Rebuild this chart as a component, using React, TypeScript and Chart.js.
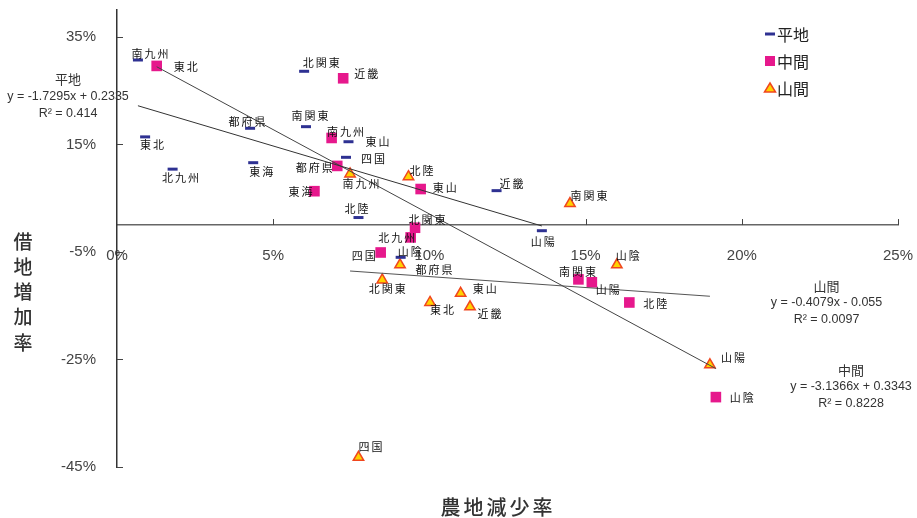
import React, { useEffect, useRef } from 'react';
import { Chart, registerables } from 'chart.js';

Chart.register(...registerables);

// ---- data (percent units) ----
const flatNames = ['南九州', '東北', '北九州', '都府県', '東海', '北関東', '南関東', '東山', '四国', '北陸', '近畿', '山陽', '山陰'];
const flatX = [0.67, 0.9, 1.78, 4.26, 4.36, 5.99, 6.05, 7.41, 7.33, 7.73, 12.15, 13.6, 9.08];
const flatY = [30.7, 16.4, 10.4, 18.0, 11.6, 28.6, 18.3, 15.5, 12.6, 1.4, 6.4, -1.05, -6.0];

const midNames = ['東北', '近畿', '南九州', '都府県', '東海', '東山', '北関東', '北九州', '四国', '南関東', '山陽', '北陸', '山陰'];
const midX = [1.27, 7.24, 6.87, 7.05, 6.32, 9.72, 9.54, 9.4, 8.44, 14.77, 15.2, 16.4, 19.17];
const midY = [29.6, 27.3, 16.2, 11.0, 6.3, 6.7, -0.5, -2.3, -5.1, -10.1, -10.65, -14.4, -32.0];

const mtnNames = ['南九州', '北陸', '南関東', '都府県', '北関東', '東山', '東北', '近畿', '山陰', '山陽', '四国'];
const mtnX = [7.46, 9.33, 14.5, 9.06, 8.49, 11.0, 10.02, 11.3, 16.0, 18.98, 7.73];
const mtnY = [9.5, 9.0, 4.0, -7.4, -10.2, -12.7, -14.4, -15.2, -7.4, -26.0, -43.2];

const seriesNames = ['平地', '中間', '山間'];
const trendSlopes = [-1.7295, -3.1366, -0.4079];
const trendIntercepts = [0.2335, 0.3343, -0.055];
const trendR2 = ['0.414', '0.8228', '0.0097'];

const xTickValues = [0, 5, 10, 15, 20, 25];
const yTickValues = [-45, -25, -5, 15, 35];

// ---- label placement (offset of label centre from its point, px) ----
const flatLabelOffsets = [[12, -6], [7, 8], [8, 9], [-3, -6], [8, 9], [17, -8], [4, -11], [29, 0], [27, 1], [-2, -9], [15, -7], [1, 11], [9, -6]];
const midLabelOffsets = [[29, 1], [23, -4], [14, -6], [-23, 2], [-14, 1], [24, -1], [12, -8], [-14, 0], [-17, 3], [-1, -8], [16, 7], [26, 1], [26, 1]];
const mtnLabelOffsets = [[11, 10], [13, -6], [19, -8], [34, 5], [5, 9], [24, -5], [12, 7], [19.5, 7], [11, -9], [23, -7], [12, -11]];

const BLUE = '#2e3192';
const PINK = '#e6188c';
const TRI_FILL = '#ffd200';
const TRI_BORDER = '#f0461e';

const CJK = '"Noto Sans CJK JP", "Noto Sans", sans-serif';
const LAT = '"Liberation Sans", Arial, sans-serif';

function toPoints(xs: number[], ys: number[]) {
  return xs.map((x, i) => ({ x: x / 100, y: ys[i] / 100 }));
}

function trendPoints(xs: number[], k: number) {
  const lo = Math.min(...xs) / 100;
  const hi = Math.max(...xs) / 100;
  return [
    { x: lo, y: trendSlopes[k] * lo + trendIntercepts[k] },
    { x: hi, y: trendSlopes[k] * hi + trendIntercepts[k] },
  ];
}

function fmtEq(k: number) {
  const a = trendSlopes[k];
  const b = trendIntercepts[k];
  const as = a < 0 ? '-' + Math.abs(a) : String(a);
  const bs = b < 0 ? '- ' + Math.abs(b) : '+ ' + b;
  return `y = ${as}x ${bs}`;
}

const pointLabelsPlugin = {
  id: 'pointLabels',
  afterDatasetsDraw(chart: any) {
    const ctx = chart.ctx;
    const groups: [number, string[], number[][]][] = [
      [0, flatNames, flatLabelOffsets],
      [1, midNames, midLabelOffsets],
      [2, mtnNames, mtnLabelOffsets],
    ];
    ctx.save();
    ctx.font = `11px ${CJK}`;
    (ctx as any).letterSpacing = '2px';
    ctx.fillStyle = '#111';
    ctx.textAlign = 'center';
    ctx.textBaseline = 'middle';
    groups.forEach(([di, names, offs]) => {
      const meta = chart.getDatasetMeta(di);
      meta.data.forEach((el: any, i: number) => {
        const o = offs[i] || [0, 0];
        ctx.fillText(names[i], el.x + o[0] + 1, el.y + o[1]);
      });
    });
    ctx.restore();
  },
};

const decorPlugin = {
  id: 'decor',
  afterDraw(chart: any) {
    const ctx = chart.ctx;
    const xs = chart.scales.x;
    const ys = chart.scales.y;
    const area = chart.chartArea;
    ctx.save();
    // inner tick marks
    ctx.strokeStyle = '#444';
    ctx.lineWidth = 1;
    ys.ticks.forEach((t: any) => {
      const py = Math.round(ys.getPixelForValue(t.value)) + 0.5;
      ctx.beginPath();
      ctx.moveTo(area.left, py);
      ctx.lineTo(area.left + 6, py);
      ctx.stroke();
    });
    const y0 = ys.getPixelForValue(0);
    xs.ticks.forEach((t: any) => {
      if (t.value === 0) return;
      const px = Math.round(xs.getPixelForValue(t.value)) + 0.5;
      ctx.beginPath();
      ctx.moveTo(px, y0);
      ctx.lineTo(px, y0 - 6);
      ctx.stroke();
    });

    // axis titles
    ctx.fillStyle = '#333';
    ctx.textAlign = 'center';
    ctx.textBaseline = 'middle';
    ctx.font = `500 19px ${CJK}`;
    const yTitle = '借地増加率';
    Array.from(yTitle).forEach((c, i) => {
      ctx.fillText(c, 23, 241.5 + i * 25.25);
    });
    ctx.font = `500 20px ${CJK}`;
    (ctx as any).letterSpacing = '3px';
    ctx.fillText('農地減少率', 498, 507);
    (ctx as any).letterSpacing = '0px';

    // trend annotations
    const notes: [number, number, number][] = [
      [0, 68, 79.5],
      [2, 826.5, 286],
      [1, 851, 370],
    ];
    notes.forEach(([k, cx, cy]) => {
      ctx.fillStyle = '#333';
      ctx.font = `13px ${CJK}`;
      ctx.fillText(seriesNames[k], cx, cy);
      ctx.font = `12.5px ${LAT}`;
      ctx.fillText(fmtEq(k), cx, cy + 17);
      ctx.fillText(`R² = ${trendR2[k]}`, cx, cy + 34);
    });

    // legend
    const lx = 770;
    const ly = [34, 61, 88];
    ctx.font = `16px ${CJK}`;
    ctx.textAlign = 'left';
    ctx.fillStyle = '#222';
    seriesNames.forEach((n, i) => {
      ctx.fillText(n, 777, ly[i] + 1);
    });
    ctx.strokeStyle = BLUE;
    ctx.lineWidth = 3;
    ctx.beginPath();
    ctx.moveTo(lx - 5, ly[0]);
    ctx.lineTo(lx + 5, ly[0]);
    ctx.stroke();
    ctx.fillStyle = PINK;
    ctx.fillRect(lx - 5, ly[1] - 5, 10, 10);
    ctx.beginPath();
    ctx.moveTo(lx, ly[2] - 5);
    ctx.lineTo(lx + 5.5, ly[2] + 4);
    ctx.lineTo(lx - 5.5, ly[2] + 4);
    ctx.closePath();
    ctx.fillStyle = TRI_FILL;
    ctx.fill();
    ctx.strokeStyle = TRI_BORDER;
    ctx.lineWidth = 1.5;
    ctx.stroke();
    ctx.restore();
  },
};

export default function App() {
  const ref = useRef<HTMLCanvasElement | null>(null);
  useEffect(() => {
    if (!ref.current) return;
    const chart = new Chart(ref.current, {
      type: 'scatter',
      data: {
        datasets: [
          {
            label: seriesNames[0],
            data: toPoints(flatX, flatY),
            pointStyle: 'line',
            pointRadius: 5,
            borderColor: BLUE,
            backgroundColor: BLUE,
            borderWidth: 3,
            order: 2,
          },
          {
            label: seriesNames[1],
            data: toPoints(midX, midY),
            pointStyle: 'rect',
            pointRadius: 7.5,
            borderColor: PINK,
            backgroundColor: PINK,
            borderWidth: 0,
            order: 2,
          },
          {
            label: seriesNames[2],
            data: toPoints(mtnX, mtnY),
            pointStyle: 'triangle',
            pointRadius: 6,
            borderColor: TRI_BORDER,
            backgroundColor: TRI_FILL,
            borderWidth: 1.5,
            order: 2,
          },
          {
            label: 'trend0',
            data: trendPoints(flatX, 0),
            showLine: true,
            pointRadius: 0,
            borderColor: '#333',
            borderWidth: 1,
            order: 1,
          },
          {
            label: 'trend1',
            data: trendPoints(midX, 1),
            showLine: true,
            pointRadius: 0,
            borderColor: '#444',
            borderWidth: 1,
            order: 1,
          },
          {
            label: 'trend2',
            data: trendPoints(mtnX, 2),
            showLine: true,
            pointRadius: 0,
            borderColor: '#555',
            borderWidth: 1.2,
            order: 1,
          },
        ],
      } as any,
      options: {
        animation: false,
        responsive: false,
        layout: { padding: { left: 0, right: 19, top: 10, bottom: 51 } },
        plugins: {
          legend: { display: false },
          tooltip: { enabled: false },
        },
        scales: {
          x: {
            type: 'linear',
            min: 0,
            max: 0.25,
            position: { y: 0 } as any,
            grid: { display: false, drawTicks: false },
            border: { display: true, color: '#666', width: 1.5 },
            afterBuildTicks: (s: any) => {
              s.ticks = xTickValues.map((v) => ({ value: v / 100 }));
            },
            afterFit: (s: any) => {
              s.height = 0;
              s.paddingLeft = 0;
              s.paddingRight = 0;
              s.paddingTop = 0;
              s.paddingBottom = 0;
            },
            ticks: {
              padding: 22,
              autoSkip: false,
              maxRotation: 0,
              color: '#444',
              font: { family: LAT, size: 15 },
              callback: (v: any) => Math.round(Number(v) * 100) + '%',
            },
          },
          y: {
            type: 'linear',
            min: -0.45,
            max: 0.4,
            grid: { display: false, drawTicks: false },
            border: { display: true, color: '#333', width: 1.5 },
            afterBuildTicks: (s: any) => {
              s.ticks = yTickValues.map((v) => ({ value: v / 100 }));
            },
            afterFit: (s: any) => {
              s.width = 117;
              s.paddingLeft = 0;
              s.paddingRight = 0;
              s.paddingTop = 0;
              s.paddingBottom = 0;
            },
            ticks: {
              padding: 21,
              autoSkip: false,
              color: '#444',
              font: { family: LAT, size: 15 },
              callback: (v: any) => Math.round(Number(v) * 100) + '%',
            },
          },
        },
      } as any,
      plugins: [pointLabelsPlugin, decorPlugin],
    });
    return () => chart.destroy();
  }, []);
  return (
    <div style={{ position: 'fixed', left: 0, top: 0, width: 917, height: 518, background: '#fff' }}>
      <canvas ref={ref} width={917} height={518} style={{ display: 'block', width: 917, height: 518 }} />
    </div>
  );
}
